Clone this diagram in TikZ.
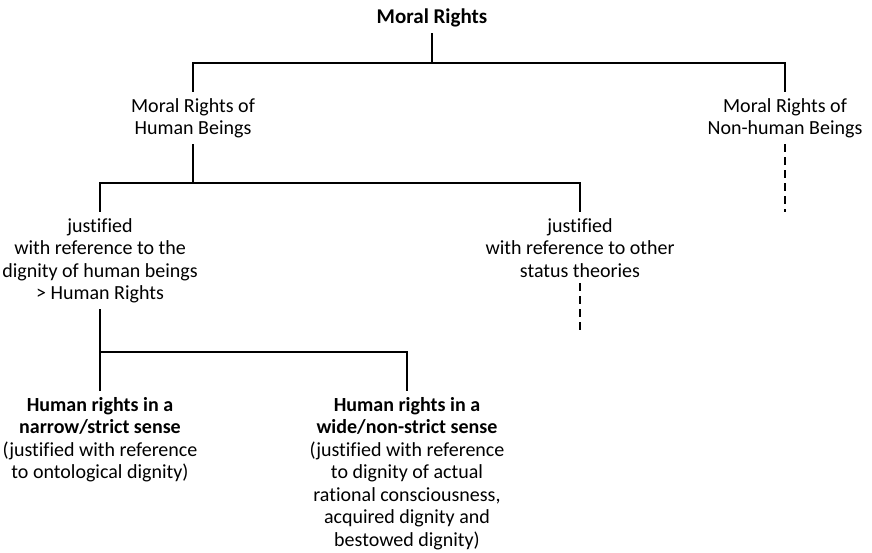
\documentclass[tikz,border=0pt]{standalone}
\usepackage{fontspec}
\setmainfont{Carlito}[Ligatures=CommonOff]
\tikzset{
  txt/.style={align=center, inner xsep=0pt, inner ysep=6pt, font=\fontsize{20}{22.5}\selectfont},
  link/.style={line width=1.8pt},
  open/.style={line width=1.8pt, dash pattern=on 8pt off 5pt},
}
\begin{document}
\begin{tikzpicture}[x=1pt, y=-1pt]
    \useasboundingbox (0,0) rectangle (872,553);

    % Wurzel
    \node[txt, font=\fontsize{21}{22.5}\selectfont\bfseries] (root) at (432,18) {Moral Rights};

    % Ebene 1
    \node[txt, anchor=north] (human) at (193,92) {Moral Rights of\\Human Beings};
    \node[txt, anchor=north] (nonhuman) at (785,92) {Moral Rights of\\Non-human Beings};

    % Ebene 2
    \node[txt, anchor=north] (dignity) at (100,212) {justified\\with reference to the\\dignity of human beings\\> Human Rights};
    \node[txt, anchor=north] (other) at (580,212) {justified\\with reference to other\\status theories};

    % Ebene 3
    \node[txt, anchor=north] (narrow) at (100,391) {\textbf{Human rights in a}\\\textbf{narrow/strict sense}\\(justified with reference\\to ontological dignity)};
    \node[txt, anchor=north] (wide) at (407,391) {\textbf{Human rights in a}\\\textbf{wide/non-strict sense}\\(justified with reference\\to dignity of actual\\rational consciousness,\\acquired dignity and\\bestowed dignity)};

    % Verzweigungen
    \coordinate (bar1) at (432,63);
    \coordinate (bar2) at (193,183);
    \coordinate (bar3) at (100,352);
    \coordinate (end1) at (785,212);
    \coordinate (end2) at (580,335);

    \draw[link] (root.south) -- (bar1);
    \draw[link] (human.north) |- (bar1) -| (nonhuman.north);
    \draw[link] (human.south) -- (bar2);
    \draw[link] (dignity.north) |- (bar2) -| (other.north);
    \draw[link] (dignity.south) -- (bar3);
    \draw[link] (narrow.north) |- (bar3) -| (wide.north);
    \draw[open] (nonhuman.south) -- (end1);
    \draw[open] (other.south) -- (end2);
\end{tikzpicture}
\end{document}
